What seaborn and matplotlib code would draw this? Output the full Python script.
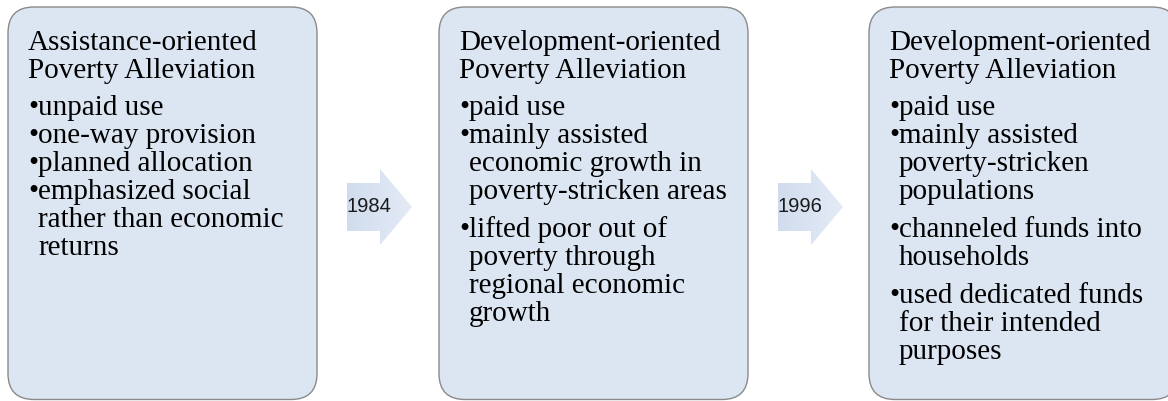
import numpy as np
import matplotlib
matplotlib.use("Agg")
import matplotlib.pyplot as plt
from matplotlib.patches import FancyBboxPatch, Polygon
from matplotlib.colors import LinearSegmentedColormap
import seaborn as sns

# ---- Diagram content ----
stage_titles = [
    ["Assistance-oriented", "Poverty Alleviation"],
    ["Development-oriented", "Poverty Alleviation"],
    ["Development-oriented", "Poverty Alleviation"],
]
stage_bullets = [
    [
        ["unpaid use"],
        ["one-way provision"],
        ["planned allocation"],
        ["emphasized social", "rather than economic", "returns"],
    ],
    [
        ["paid use"],
        ["mainly assisted", "economic growth in", "poverty-stricken areas"],
        ["lifted poor out of", "poverty through", "regional economic", "growth"],
    ],
    [
        ["paid use"],
        ["mainly assisted", "poverty-stricken", "populations"],
        ["channeled funds into", "households"],
        ["used dedicated funds", "for their intended", "purposes"],
    ],
]
transition_years = ["1984", "1996"]

# ---- Layout (pixels) ----
W, H = 1168, 401
BOX_LEFTS = [8, 439, 869]
BOX_W, BOX_TOP, BOX_BOTTOM = 309, 7, 399.5
RADIUS = 26
TEXT_PAD = 20
LINE = 28
PARA_EXTRA = 10
FS = 21

BOX_FILL = "#dce6f2"
BOX_EDGE = "#8a8a8a"
ARROW_CMAP = LinearSegmentedColormap.from_list("arrow", ["#d0dcee", "#e4ebf6"])

sns.set_theme(style="white")
plt.rcParams["font.family"] = ["Liberation Serif", "DejaVu Serif"]

fig = plt.figure(figsize=(W / 100, H / 100), dpi=100)
ax = fig.add_axes([0, 0, 1, 1])
ax.set_xlim(0, W)
ax.set_ylim(H, 0)
ax.axis("off")

# ---- Stage boxes ----
for left, title, bullets in zip(BOX_LEFTS, stage_titles, stage_bullets):
    box = FancyBboxPatch(
        (left, BOX_TOP), BOX_W, BOX_BOTTOM - BOX_TOP,
        boxstyle=f"round,pad=0,rounding_size={RADIUS}",
        facecolor=BOX_FILL, edgecolor=BOX_EDGE, linewidth=1.0,
    )
    ax.add_patch(box)

    tx = left + TEXT_PAD
    y = 50
    for line in title:
        ax.text(tx, y, line, fontsize=FS, va="baseline", ha="left", color="black")
        y += LINE
    y += 9
    for para in bullets:
        ax.text(tx, y, "\u2022", fontsize=FS, va="baseline", ha="left", color="black")
        for line in para:
            ax.text(tx + 10, y, line, fontsize=FS, va="baseline", ha="left",
                    color="black")
            y += LINE
        if len(para) > 1:
            y += PARA_EXTRA

# ---- Transition arrows ----
grad = np.linspace(0, 1, 256).reshape(1, -1)
for i, year in enumerate(transition_years):
    x0 = BOX_LEFTS[i] + BOX_W + 30
    xh, xt = x0 + 33, x0 + 65
    cy = 207
    pts = [(x0, 183), (xh, 183), (xh, 169), (xt, cy), (xh, 245),
           (xh, 231), (x0, 231)]
    poly = Polygon(pts, closed=True, facecolor="none", edgecolor="none")
    ax.add_patch(poly)
    im = ax.imshow(grad, cmap=ARROW_CMAP, extent=(x0, xt, 245, 169),
                   aspect="auto", zorder=1)
    im.set_clip_path(poly)
    ax.text(x0 + 22, cy, year, fontsize=14.5, ha="center", va="center",
            family=["Liberation Sans", "DejaVu Sans"], color="#1a1a1a", zorder=2)

ax.set_xlim(0, W)
ax.set_ylim(H, 0)
fig.savefig("out.png", dpi=100)
plt.close(fig)
